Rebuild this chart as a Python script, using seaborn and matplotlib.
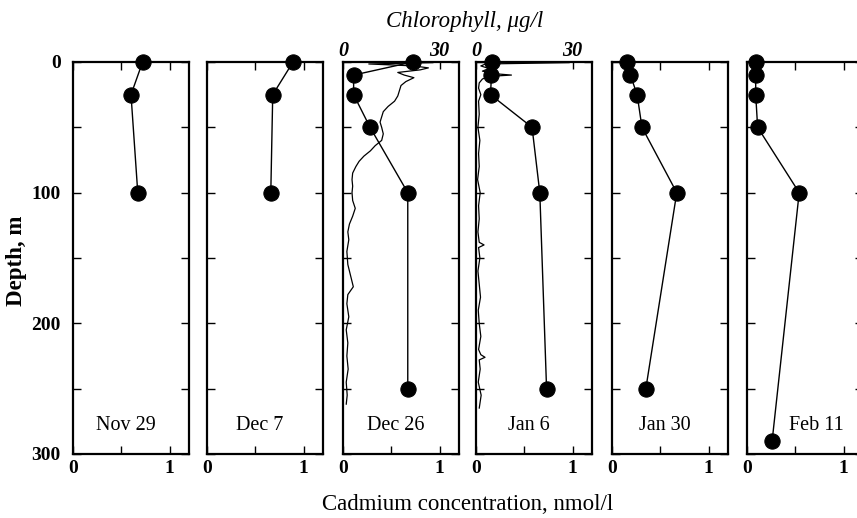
import matplotlib
matplotlib.use("Agg")
import matplotlib.pyplot as plt
import seaborn as sns
import pandas as pd
import numpy as np

sns.set_theme(style="white")
plt.rcParams['font.family'] = ['Liberation Serif', 'DejaVu Serif']
for k in ['text.color', 'axes.labelcolor', 'xtick.color', 'ytick.color']:
    plt.rcParams[k] = 'black'

# ---------------- data ----------------
dates = ["Nov 29", "Dec 7", "Dec 26", "Jan 6", "Jan 30", "Feb 11"]

cd_depth_nov29 = [0, 25, 100]
cd_nov29 = [0.72, 0.60, 0.67]

cd_depth_dec7 = [0, 25, 100]
cd_dec7 = [0.89, 0.68, 0.66]

cd_depth_dec26 = [0, 10, 25, 50, 100, 250]
cd_dec26 = [0.72, 0.11, 0.11, 0.28, 0.67, 0.67]

cd_depth_jan6 = [0, 10, 25, 50, 100, 250]
cd_jan6 = [0.17, 0.16, 0.15, 0.58, 0.66, 0.73]

cd_depth_jan30 = [0, 10, 25, 50, 100, 250]
cd_jan30 = [0.15, 0.19, 0.26, 0.31, 0.67, 0.35]

cd_depth_feb11 = [0, 10, 25, 50, 100, 290]
cd_feb11 = [0.09, 0.09, 0.09, 0.11, 0.54, 0.26]

chl_depth_dec26 = [0, 0.5, 1.5, 3, 4.5, 6, 8, 10, 12, 15, 18, 22, 26, 30, 34, 38, 42, 46,
                   50, 55, 60, 64, 68, 72, 76, 80, 85, 90, 95, 100, 106, 112, 118, 124,
                   130, 136, 145, 155, 165, 172, 178, 185, 195, 205, 215, 225, 235, 245,
                   255, 262]
chl_dec26 = [1.0, 28.0, 8.0, 22.0, 26.5, 24.0, 17.0, 19.0, 22.0, 19.5, 18.0, 17.5, 17.0,
             16.0, 14.0, 12.5, 12.0, 11.5, 12.0, 12.5, 12.0, 10.0, 8.5, 6.5, 5.0, 4.0, 3.0,
             2.8, 3.0, 2.8, 3.0, 3.8, 3.0, 2.0, 1.5, 1.8, 1.2, 1.5, 2.5, 3.2, 1.5, 1.2, 1.8,
             1.0, 1.5, 1.2, 1.6, 1.0, 1.3, 1.0]

chl_depth_jan6 = [0, 0.5, 1.5, 3, 5, 7, 9, 10, 11, 13, 16, 20, 25, 30, 40, 50, 60, 70, 80,
                  90, 100, 110, 120, 130, 138, 140, 142, 150, 160, 170, 180, 190, 200, 210,
                  220, 224, 226, 228, 235, 245, 255, 265]
chl_jan6 = [1.0, 29.0, 3.0, 1.5, 4.0, 2.0, 6.0, 11.0, 4.0, 2.0, 1.0, 0.8, 1.5, 0.8, 1.0,
            0.6, 1.2, 0.8, 1.0, 0.5, 1.3, 0.8, 1.0, 0.6, 1.0, 2.5, 0.8, 1.2, 0.6, 1.0, 1.4,
            0.7, 1.0, 1.5, 0.8, 1.5, 2.8, 1.0, 1.3, 0.7, 1.6, 1.0]

cd_series = [
    (cd_depth_nov29, cd_nov29),
    (cd_depth_dec7, cd_dec7),
    (cd_depth_dec26, cd_dec26),
    (cd_depth_jan6, cd_jan6),
    (cd_depth_jan30, cd_jan30),
    (cd_depth_feb11, cd_feb11),
]
chl_series = {2: (chl_depth_dec26, chl_dec26), 3: (chl_depth_jan6, chl_jan6)}

x_ticks = [0, 1]
y_ticks = [0, 100, 200, 300]
chl_ticks = [0, 30]

# ---------------- layout ----------------
W, H = 857, 518
fig = plt.figure(figsize=(W / 100, H / 100), dpi=100)
panel_w = 116
panel_top = 62
panel_bot = 454
lefts = [73, 207, 343, 476, 612, 747]
label_x = [0.55, 0.55, 0.55, 0.55, 0.55, 0.72]

for i, (dep, cd) in enumerate(cd_series):
    ax = fig.add_axes([lefts[i] / W, (H - panel_bot) / H, panel_w / W,
                       (panel_bot - panel_top) / H])
    if i in chl_series:
        cdep, chl = chl_series[i]
        axc = ax.twiny()
        dfc = pd.DataFrame({"chl": chl, "depth": cdep})
        sns.lineplot(data=dfc, x="chl", y="depth", sort=False, estimator=None,
                     color="black", linewidth=0.9, ax=axc)
        axc.set_xlim(0, 36)
        axc.set_ylim(300, 0)
        axc.set_xticks(chl_ticks)
        axc.set_xticklabels([str(t) for t in chl_ticks], fontweight="bold",
                            fontstyle="italic", fontsize=14.5)
        axc.tick_params(axis="x", direction="in", length=5, width=1, pad=1)
        axc.set_xlabel("")
        axc.set_ylabel("")
        for s in axc.spines.values():
            s.set_visible(False)
        ax.set_zorder(axc.get_zorder() + 1)
        ax.patch.set_visible(False)

    df = pd.DataFrame({"cd": cd, "depth": dep})
    sns.lineplot(data=df, x="cd", y="depth", sort=False, estimator=None,
                 color="black", linewidth=1.0, marker="o", markersize=11,
                 markeredgecolor="black", markerfacecolor="black", ax=ax,
                 clip_on=False)
    ax.set_xlim(0, 1.2)
    ax.set_ylim(300, 0)
    ax.set_xticks(x_ticks)
    ax.set_xticks([0.5], minor=True)
    ax.set_xticklabels([str(t) for t in x_ticks], fontweight="bold", fontsize=14)
    ax.set_yticks(y_ticks)
    ax.set_yticks([50, 150, 250], minor=True)
    if i == 0:
        ax.set_yticklabels([str(t) for t in y_ticks], fontweight="bold", fontsize=14)
    else:
        ax.set_yticklabels([])
    ax.tick_params(axis="both", which="both", direction="in", length=6, width=1,
                   left=True, right=True, bottom=True, top=(i not in chl_series))
    ax.tick_params(axis="x", which="major", pad=4)
    ax.tick_params(axis="y", which="major", pad=9)
    ax.set_xlabel("")
    ax.set_ylabel("")
    for s in ax.spines.values():
        s.set_visible(True)
        s.set_color("black")
        s.set_linewidth(1.6)
    ax.text(label_x[i], 278, dates[i], ha="center", va="center", fontsize=14.5)

fig.text(17 / W, 1 - 261 / H, "Depth, m", rotation=90, ha="center", va="center",
         fontsize=16.5, fontweight="bold")
fig.text(468 / W, 1 - 505 / H, "Cadmium concentration, nmol/l", ha="center",
         va="center", fontsize=16.5)
fig.text(465 / W, 1 - 22 / H, "Chlorophyll, μg/l", ha="center", va="center",
         fontsize=16.5, fontstyle="italic")

fig.savefig("out.png", dpi=100)
